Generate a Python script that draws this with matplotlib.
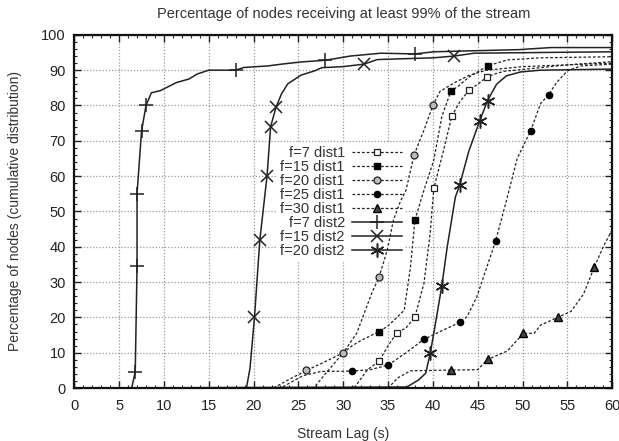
import numpy as np
import matplotlib.pyplot as plt
from matplotlib.ticker import MultipleLocator

plt.rcParams['font.family'] = ['Liberation Sans', 'DejaVu Sans']

# stream lag (s) and cumulative percentage of nodes
f7_d1_x = [0, 31.2, 32.7, 34.0, 35.0, 36.0, 37.0, 38.0, 39.0, 39.7, 40.1, 41.2, 42.1, 43.0, 44.0, 45.0, 46.0, 47.0, 48.0, 50.0, 55.0, 60.0]
f7_d1_y = [0, 0, 5.2, 7.6, 12.0, 15.7, 17.0, 20.2, 29.6, 43.8, 56.5, 67.4, 76.9, 81.0, 84.3, 86.0, 88.0, 89.0, 89.7, 90.2, 91.5, 92.4]
f7_d1_marks = [3, 5, 7, 10, 12, 14, 16]

f15_d1_x = [0, 26.7, 28.0, 30.0, 31.0, 32.0, 34.0, 35.0, 36.8, 37.5, 38.0, 39.0, 40.1, 41.0, 42.0, 42.9, 44.0, 46.1, 48.3, 52.0, 60.0]
f15_d1_y = [0, 0, 4.0, 10.0, 12.0, 13.5, 16.0, 17.6, 22.0, 34.3, 47.6, 56.0, 64.5, 76.9, 84.0, 85.6, 88.0, 91.2, 92.9, 93.5, 93.8]
f15_d1_marks = [6, 10, 14, 17]

f20_d1_x = [0, 22.2, 24.0, 25.9, 28.0, 30.0, 31.5, 33.2, 34.0, 34.9, 35.6, 36.4, 37.0, 37.9, 39.0, 40.0, 40.8, 42.3, 44.0, 46.0, 50.0, 60.0]
f20_d1_y = [0, 0, 2.5, 5.0, 7.5, 10.0, 15.5, 27.0, 31.4, 39.0, 47.6, 53.0, 56.0, 66.0, 73.0, 80.0, 84.0, 86.3, 88.5, 90.0, 91.0, 92.0]
f20_d1_marks = [3, 5, 8, 13, 15]

f25_d1_x = [0, 23.0, 25.5, 27.5, 31.0, 33.0, 35.0, 37.0, 39.0, 40.8, 43.0, 43.8, 44.9, 47.0, 48.3, 49.4, 50.9, 52.0, 52.9, 53.8, 55.0, 56.5, 60.0]
f25_d1_y = [0, 0, 3.5, 4.7, 4.8, 5.2, 6.5, 10.0, 13.8, 16.0, 18.6, 20.2, 25.8, 41.7, 54.0, 65.0, 72.8, 80.5, 83.0, 86.5, 89.8, 91.2, 91.7]
f25_d1_marks = [4, 6, 8, 10, 13, 16, 18]

f30_d1_x = [0, 35.0, 36.1, 37.5, 42.0, 45.0, 46.1, 48.3, 50.1, 51.3, 52.0, 53.9, 55.4, 56.8, 58.0, 59.0, 60.0]
f30_d1_y = [0, 0, 2.9, 4.9, 5.1, 5.2, 8.1, 10.5, 15.5, 15.5, 17.8, 20.0, 21.7, 26.6, 34.2, 40.0, 44.8]
f30_d1_marks = [4, 6, 8, 11, 14]

f7_d2_x = [0, 6.4, 6.8, 7.0, 7.0, 7.5, 8.0, 8.6, 9.6, 10.7, 11.4, 12.8, 13.7, 15.0, 18.0, 18.9, 21.6, 23.1, 25.2, 28.0, 30.8, 34.2, 38.0, 40.1, 44.6, 49.5, 53.2, 60.0]
f7_d2_y = [0, 0, 4.6, 34.5, 55.0, 72.7, 80.0, 83.6, 84.2, 85.6, 86.5, 87.5, 88.9, 90.0, 90.0, 90.75, 91.2, 91.7, 92.3, 92.8, 94.0, 94.8, 94.6, 95.2, 95.5, 95.8, 96.4, 96.4]
f7_d2_marks = [2, 3, 4, 5, 6, 14, 19, 22]

f15_d2_x = [0, 19.2, 19.6, 20.1, 20.7, 21.5, 21.9, 22.5, 23.1, 23.8, 25.3, 26.8, 27.6, 30.0, 32.3, 33.8, 40.1, 42.4, 44.6, 52.0, 60.0]
f15_d2_y = [0, 0, 5.6, 20.0, 42.0, 60.0, 74.0, 79.5, 83.2, 86.1, 88.6, 89.8, 90.7, 91.0, 91.7, 93.0, 93.5, 94.0, 94.8, 95.0, 95.2]
f15_d2_marks = [3, 4, 5, 6, 7, 14, 17]

f20_d2_x = [0, 37.1, 38.4, 39.2, 39.7, 40.1, 41.0, 41.6, 42.5, 43.0, 44.0, 45.2, 46.1, 47.1, 48.2, 49.8, 52.0, 60.0]
f20_d2_y = [0, 0.3, 2.3, 4.2, 9.8, 15.5, 29.0, 40.0, 54.0, 57.6, 67.0, 75.5, 81.4, 86.0, 88.4, 89.5, 90.0, 90.3]
f20_d2_marks = [4, 6, 9, 11, 12]

fig, ax = plt.subplots(figsize=(6.19, 4.41), dpi=100)
fig.subplots_adjust(left=0.12, right=0.989, top=0.921, bottom=0.12)

dash = (0, (2.2, 1.6))
ax.plot(f7_d1_x, f7_d1_y, color='#222222', lw=0.9, ls=dash, marker='s', ms=5,
        mfc='white', mec='#222222', mew=0.9, markevery=f7_d1_marks, label='f=7 dist1')
ax.plot(f15_d1_x, f15_d1_y, color='#222222', lw=0.9, ls=dash, marker='s', ms=5,
        mfc='black', mec='black', markevery=f15_d1_marks, label='f=15 dist1')
ax.plot(f20_d1_x, f20_d1_y, color='#222222', lw=0.9, ls=dash, marker='o', ms=5,
        mfc='#bbbbbb', mec='#222222', mew=0.9, markevery=f20_d1_marks, label='f=20 dist1')
ax.plot(f25_d1_x, f25_d1_y, color='#222222', lw=0.9, ls=dash, marker='o', ms=4.5,
        mfc='black', mec='black', markevery=f25_d1_marks, label='f=25 dist1')
ax.plot(f30_d1_x, f30_d1_y, color='#222222', lw=0.9, ls=dash, marker='^', ms=5.5,
        mfc='#444444', mec='black', markevery=f30_d1_marks, label='f=30 dist1')
ax.plot(f7_d2_x, f7_d2_y, color='#222222', lw=1.1, marker='+', ms=10, mew=1.1,
        markevery=f7_d2_marks, label='f=7 dist2')
ax.plot(f15_d2_x, f15_d2_y, color='#222222', lw=1.1, marker='x', ms=9, mew=1.1,
        markevery=f15_d2_marks, label='f=15 dist2')
ax.plot(f20_d2_x, f20_d2_y, color='#222222', lw=1.1, marker=(6, 2, 0), ms=10, mew=1.1,
        markevery=f20_d2_marks, label='f=20 dist2')

ax.set_xlim(0, 60)
ax.set_ylim(0, 100)
ax.xaxis.set_major_locator(MultipleLocator(5))
ax.xaxis.set_minor_locator(MultipleLocator(1))
ax.yaxis.set_major_locator(MultipleLocator(10))
ax.yaxis.set_minor_locator(MultipleLocator(2))
ax.tick_params(which='both', direction='in', top=True, right=True, labelsize=10.5, colors='#222222')
ax.tick_params(which='major', length=5, width=1, pad=8)
ax.tick_params(which='minor', length=2.5, width=0.8)
ax.tick_params(axis='y', which='major', pad=6)
ax.grid(True, which='major', color='#999999', ls=(0, (1, 1.5)), lw=0.9)
for s in ax.spines.values():
    s.set_linewidth(1.6)
    s.set_color('#111111')

ax.set_title('Percentage of nodes receiving at least 99% of the stream', fontsize=10.5, color='#333333', pad=12)
ax.set_xlabel('Stream Lag (s)', fontsize=10, color='#333333', labelpad=10)
ax.set_ylabel('Percentage of nodes (cumulative distribution)', fontsize=10, color='#333333', labelpad=14)

leg = ax.legend(loc='upper left', bbox_to_anchor=(0.364, 0.715), markerfirst=False, frameon=True,
                fontsize=10.5, handlelength=3.4, handletextpad=0.5, labelspacing=0.0,
                borderpad=0.2, fancybox=False, edgecolor='none', framealpha=1)
leg.set_zorder(1.8)
for t in leg.get_texts():
    t.set_ha('right')
    t.set_color('#333333')

fig.savefig('out.png', dpi=100)
